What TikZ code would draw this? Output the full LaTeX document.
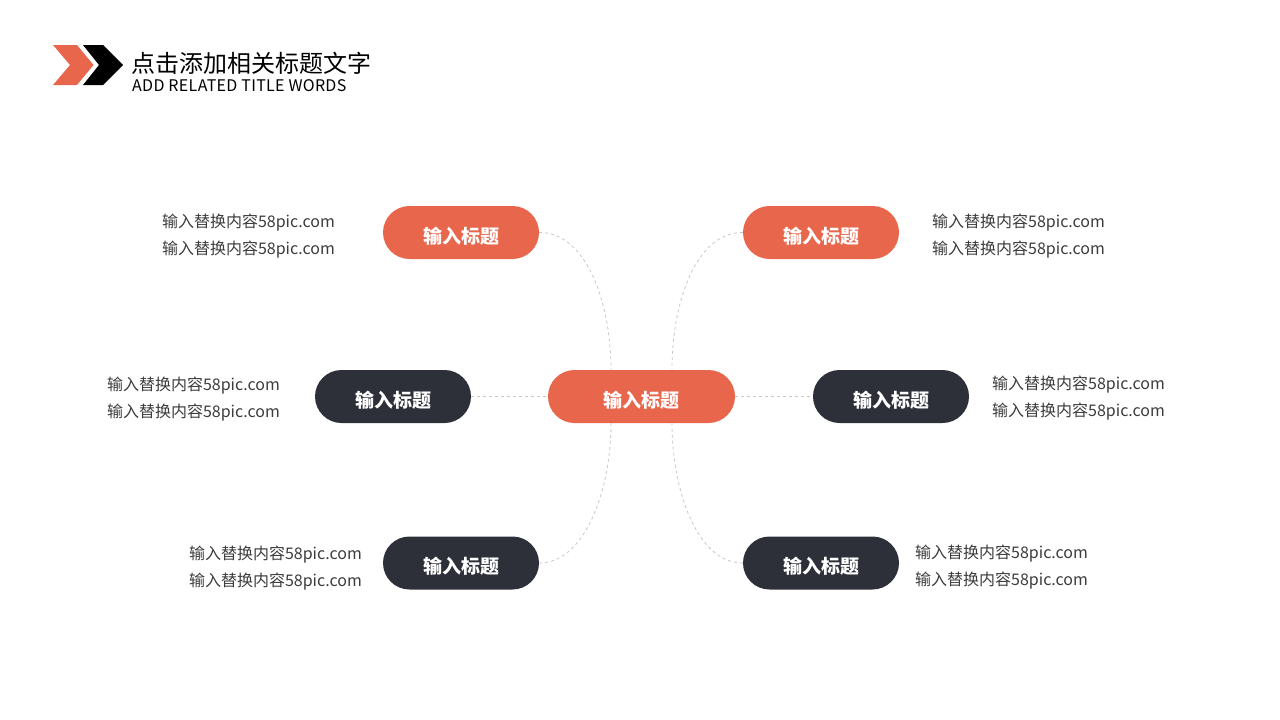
\documentclass[tikz,border=0pt]{standalone}
\usepackage{fontspec}
\setmainfont{Noto Sans CJK SC}
\newfontfamily\cjk{Noto Sans CJK SC}
\definecolor{orangeC}{HTML}{E8664B}
\definecolor{darkC}{HTML}{2D3039}
\definecolor{lineC}{HTML}{C8C8C8}
\definecolor{txtC}{HTML}{3C3C3C}
\newcommand{\pilltext}[1]{\raisebox{-3.5pt}[\height][\depth]{#1}}
\tikzset{
  pill/.style={rounded rectangle, minimum width=156pt, minimum height=53pt, inner sep=0pt, text=white, font=\cjk\fontsize{19}{21}\selectfont\bfseries},
  orangepill/.style={pill, fill=orangeC},
  darkpill/.style={pill, fill=darkC},
  conn/.style={draw=lineC, line width=0.8pt, dash pattern=on 3pt off 3pt},
  desc/.style={text=txtC, font=\cjk\fontsize{16}{27}\selectfont, inner sep=0pt}
}
\usetikzlibrary{shapes.misc}
\begin{document}
\begin{tikzpicture}[x=1pt,y=-1pt]
\useasboundingbox (0,0) rectangle (1280,720);
\fill[white] (0,0) rectangle (1280,720);
% logo
\fill[orangeC] (53,45) -- (77,45) -- (93.5,65) -- (77,85) -- (53,85) -- (70,65) -- cycle;
\fill[black] (83,45) -- (103,45) -- (123,65) -- (103,85) -- (83,85) -- (99,65) -- cycle;
\node[anchor=west, inner sep=0pt, font=\cjk\fontsize{24}{26}\selectfont] (title) at (131,63) {点击添加相关标题文字};
\node[anchor=west, inner sep=0pt, font=\cjk\fontsize{16}{18}\selectfont\addfontfeature{LetterSpace=2}] (subtitle) at (132,86) {ADD RELATED TITLE WORDS};
% nodes
\node[orangepill, minimum width=187pt] (c) at (641.5,396.5) {\pilltext{输入标题}};
\node[orangepill] (tl) at (461,232.5) {\pilltext{输入标题}};
\node[orangepill] (tr) at (821,232.5) {\pilltext{输入标题}};
\node[darkpill] (ml) at (393,396.5) {\pilltext{输入标题}};
\node[darkpill] (mr) at (891,396.5) {\pilltext{输入标题}};
\node[darkpill] (bl) at (461,563) {\pilltext{输入标题}};
\node[darkpill] (br) at (821,563) {\pilltext{输入标题}};
% connector anchors on center
\coordinate (ctl) at (611,370);
\coordinate (ctr) at (672,370);
\coordinate (cbl) at (611,423);
\coordinate (cbr) at (672,423);
\draw[conn] (tl.east) .. controls (585,232) and (611,300) .. (ctl);
\draw[conn] (tr.west) .. controls (697,232) and (672,300) .. (ctr);
\draw[conn] (bl.east) .. controls (585,563) and (611,490) .. (cbl);
\draw[conn] (br.west) .. controls (697,563) and (672,490) .. (cbr);
\draw[conn] (ml.east) -- (c.west);
\draw[conn] (c.east) -- (mr.west);
% descriptions
\node[desc, anchor=east, align=right] (dtl) at (335,236.5) {输入替换内容58pic.com\\输入替换内容58pic.com};
\node[desc, anchor=east, align=right] (dml) at (280,399.5) {输入替换内容58pic.com\\输入替换内容58pic.com};
\node[desc, anchor=east, align=right] (dbl) at (362,568.5) {输入替换内容58pic.com\\输入替换内容58pic.com};
\node[desc, anchor=west, align=left] (dtr) at (932,236.5) {输入替换内容58pic.com\\输入替换内容58pic.com};
\node[desc, anchor=west, align=left] (dmr) at (992,398.5) {输入替换内容58pic.com\\输入替换内容58pic.com};
\node[desc, anchor=west, align=left] (dbr) at (915,567.5) {输入替换内容58pic.com\\输入替换内容58pic.com};
\end{tikzpicture}
\end{document}
